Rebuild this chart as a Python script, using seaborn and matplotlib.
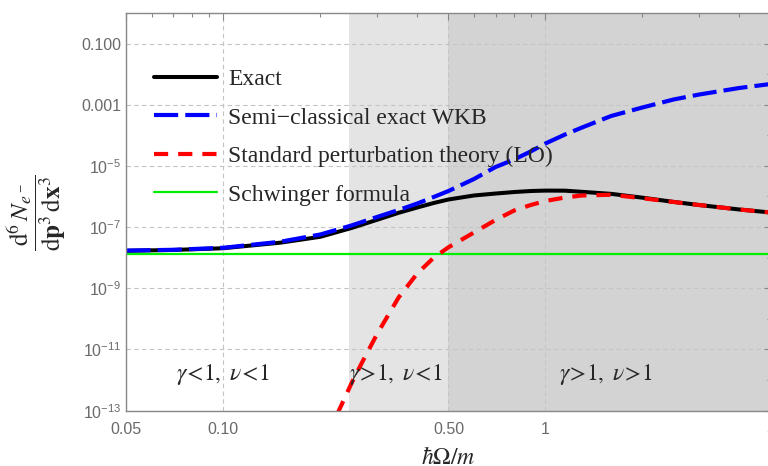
import numpy as np
import pandas as pd
import seaborn as sns
import matplotlib
matplotlib.use("Agg")
import matplotlib.pyplot as plt
from matplotlib.ticker import FixedLocator, FixedFormatter, NullFormatter

# values (hbar*Omega/m vs. d6N/dp3dx3)
omega = [0.05, 0.07, 0.1, 0.15, 0.2, 0.25, 0.3, 0.35, 0.4, 0.45, 0.5, 0.6,
         0.7, 0.8, 0.9, 1.0, 1.15, 1.3, 1.6, 2.0, 2.5, 3.0, 4.0, 5.0]
exact = [1.68e-8, 1.79e-8, 2.04e-8, 3.09e-8, 4.82e-8, 9.35e-8, 1.73e-7,
         2.93e-7, 4.37e-7, 6.14e-7, 7.98e-7, 1.08e-6, 1.25e-6, 1.40e-6,
         1.51e-6, 1.56e-6, 1.55e-6, 1.42e-6, 1.22e-6, 9.15e-7, 6.66e-7,
         5.27e-7, 3.76e-7, 3.00e-7]
wkb = [1.71e-8, 1.81e-8, 2.11e-8, 3.31e-8, 5.73e-8, 1.13e-7, 2.14e-7,
       3.62e-7, 5.90e-7, 9.64e-7, 1.51e-6, 3.73e-6, 9.2e-6, 1.62e-5,
       2.96e-5, 5.40e-5, 1.06e-4, 1.80e-4, 4.28e-4, 8.10e-4, 1.48e-3,
       2.15e-3, 3.52e-3, 4.74e-3]
omega_lo = [0.21, 0.23, 0.25, 0.27, 0.3, 0.35, 0.4, 0.45, 0.5, 0.6, 0.7,
            0.8, 0.9, 1.0, 1.15, 1.3, 1.6, 2.0, 2.5, 3.0, 4.0, 5.0]
lo = [1.49e-14, 1.18e-13, 7.92e-13, 3.90e-12, 3.18e-11, 5.00e-10, 3.05e-9,
      1.0e-8, 2.19e-8, 6.66e-8, 1.71e-7, 3.49e-7, 5.27e-7, 7.13e-7,
      9.27e-7, 1.08e-6, 1.14e-6, 8.79e-7, 6.61e-7, 5.27e-7, 3.76e-7, 3.00e-7]
omega_sch = [0.05, 5.0]
schwinger = [1.36e-8, 1.36e-8]

# regime boundaries and labels
bounds = [0.245, 0.5, 5.0]
regimes = [r"$\gamma\!<\!1,\ \nu\!<\!1$", r"$\gamma\!>\!1,\ \nu\!<\!1$",
           r"$\gamma\!>\!1,\ \nu\!>\!1$"]
regime_x = [0.0994, 0.344, 1.54]

x_major = [0.05, 0.1, 0.5, 1, 5]
x_labels = ["0.05", "0.10", "0.50", "1", "5"]
x_minor = [0.06, 0.07, 0.08, 0.09, 0.2, 0.3, 0.4, 0.6, 0.7, 0.8, 0.9, 2, 3, 4]
y_major = [1e-1, 1e-3, 1e-5, 1e-7, 1e-9, 1e-11, 1e-13]
y_labels = ["0.100", "0.001", r"$10^{-5}$", r"$10^{-7}$", r"$10^{-9}$",
            r"$10^{-11}$", r"$10^{-13}$"]
y_minor = [1e-2, 1e-4, 1e-6, 1e-8, 1e-10, 1e-12]

sns.set_style("white")
plt.rcParams["font.family"] = ["Liberation Serif", "DejaVu Serif"]
plt.rcParams["mathtext.fontset"] = "custom"
plt.rcParams["mathtext.rm"] = "Liberation Sans"
plt.rcParams["mathtext.it"] = "Liberation Sans:italic"

fig = plt.figure(figsize=(7.68, 4.66), dpi=100)
ax = fig.add_axes([0.1646, 0.1187, 0.8387, 0.8536])

ax.axvspan(bounds[0], bounds[1], color="#e4e4e4", lw=0, zorder=0.1)
ax.axvspan(bounds[1], bounds[2], color="#d3d3d3", lw=0, zorder=0.1)

df_ex = pd.DataFrame({"x": omega, "y": exact})
df_wkb = pd.DataFrame({"x": omega, "y": wkb})
df_lo = pd.DataFrame({"x": omega_lo, "y": lo})
df_sch = pd.DataFrame({"x": omega_sch, "y": schwinger})

sns.lineplot(data=df_ex, x="x", y="y", ax=ax, color="black", lw=2.9,
             label="Exact", zorder=2)
sns.lineplot(data=df_sch, x="x", y="y", ax=ax, color="#00ee00", lw=1.6,
             label="Schwinger formula", zorder=2.1)
l_wkb = sns.lineplot(data=df_wkb, x="x", y="y", ax=ax, color="#0000ff", lw=3,
                     label="Semi\u2212classical exact WKB", zorder=2.2).lines[-1]
l_wkb.set_dashes([5.8, 1.7])
l_lo = sns.lineplot(data=df_lo, x="x", y="y", ax=ax, color="#ff0000", lw=3,
                    label="Standard perturbation theory (LO)", zorder=2.3).lines[-1]
l_lo.set_dashes([3.4, 2.4])

ax.set_xscale("log")
ax.set_yscale("log")
ax.set_xlim(0.05, 5)
ax.set_ylim(1e-13, 1)

ax.xaxis.set_major_locator(FixedLocator(x_major))
ax.xaxis.set_major_formatter(FixedFormatter(x_labels))
ax.xaxis.set_minor_locator(FixedLocator(x_minor))
ax.xaxis.set_minor_formatter(NullFormatter())
ax.yaxis.set_major_locator(FixedLocator(y_major))
ax.yaxis.set_major_formatter(FixedFormatter(y_labels))
ax.yaxis.set_minor_locator(FixedLocator(y_minor))
ax.yaxis.set_minor_formatter(NullFormatter())

ax.tick_params(which="both", direction="in", colors="#888888",
               labelcolor="#6a6a6a", top=True, right=True, width=0.8)
ax.tick_params(which="major", length=5, labelsize=11.5)
ax.tick_params(axis="x", which="major", pad=8)
ax.tick_params(which="minor", length=3)
for lbl in ax.get_xticklabels() + ax.get_yticklabels():
    lbl.set_family("Liberation Sans")

for s in ax.spines.values():
    s.set_color("#888888")
    s.set_linewidth(1)

ax.set_axisbelow(True)
ax.grid(True, which="major", color="#c4c4c4", ls=(0, (4, 3)), lw=0.8)

for xr, txt in zip(regime_x, regimes):
    ax.text(xr, 1.5e-12, txt, ha="center", va="center", fontsize=17,
            math_fontfamily="stix", zorder=3)

ax.set_xlabel(r"$\hbar\Omega/m$", fontsize=17, math_fontfamily="stix")
ax.xaxis.label.set_va("center")
ax.xaxis.set_label_coords(0.5, -0.119)
ax.set_ylabel(r"$\dfrac{\mathrm{d}^6\,N_{e^-}}{\mathrm{d}\mathbf{p}^3\,\mathrm{d}\mathbf{x}^3}$",
              fontsize=18, math_fontfamily="stix")
ax.yaxis.label.set_va("center")
ax.yaxis.set_label_coords(-0.139, 0.497)

h, l = ax.get_legend_handles_labels()
order = [0, 2, 3, 1]
ax.legend([h[i] for i in order], [l[i] for i in order], loc="upper left",
          bbox_to_anchor=(0.043, 0.86), frameon=False, fontsize=17,
          borderpad=0, borderaxespad=0, handlelength=2.65, handletextpad=0.5,
          labelspacing=0.72)

fig.savefig("out.png", dpi=100)
